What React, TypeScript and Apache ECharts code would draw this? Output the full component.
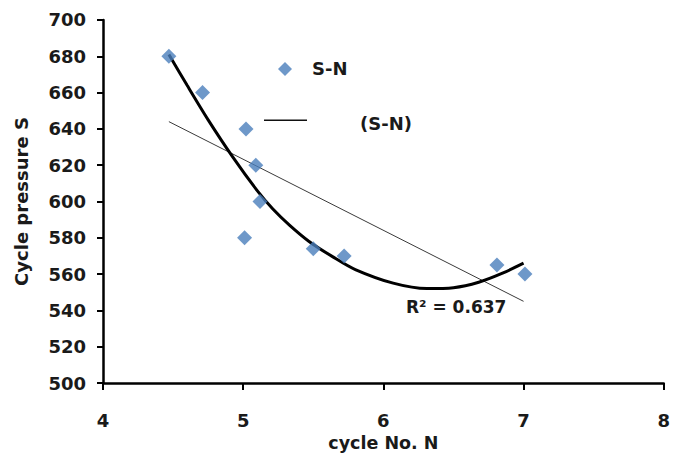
import React, { useEffect, useRef } from "react";
import * as echarts from "echarts";

// Measured data (cycle No. N vs cycle pressure S)
const cycleNo = [4.47, 4.71, 5.02, 5.09, 5.12, 5.01, 5.5, 5.72, 6.81, 7.01];
const pressure = [680, 660, 640, 620, 600, 580, 574, 570, 565, 560];

// Linear trend line
const linearX = [4.47, 7.0];
const linearY = [644, 545];

// Polynomial trend curve
const polyX = [4.47, 4.6, 4.75, 4.93, 5.1, 5.21, 5.33, 5.47, 5.64, 5.8, 6.07, 6.31, 6.5, 6.68, 6.85, 7.0];
const polyY = [681, 664, 645, 624, 606, 596, 587, 578, 569.5, 562.5, 555, 552, 552.5, 555.5, 560.5, 566];

const seriesName = "S-N";
const trendName = "(S-N)";
const r2Label = "R² = 0.637";
const xTitle = "cycle No. N";
const yTitle = "Cycle pressure S";

const FONT = "DejaVu Sans";
const W = 673;
const H = 457;
const px = (x: number) => `${((x / W) * 100).toFixed(3)}%`;
const py = (y: number) => `${((y / H) * 100).toFixed(3)}%`;

export default function App() {
  const ref = useRef<HTMLDivElement>(null);
  useEffect(() => {
    if (!ref.current) return;
    const chart = echarts.init(ref.current, null, { renderer: "svg" });
    const pts = cycleNo.map((x, i) => [x, pressure[i]]);
    const lin = linearX.map((x, i) => [x, linearY[i]]);
    const poly = polyX.map((x, i) => [x, polyY[i]]);
    const textCol = "#1a1a1a";
    chart.setOption({
      animation: false,
      backgroundColor: "#ffffff",
      textStyle: { fontFamily: FONT },
      grid: { left: px(103), right: px(3), top: py(20), bottom: py(69), containLabel: false },
      xAxis: {
        type: "value",
        min: 4,
        max: 8,
        interval: 1,
        name: xTitle,
        nameLocation: "middle",
        nameGap: 51,
        nameTextStyle: { fontFamily: FONT, fontWeight: "bold", fontSize: 17.5, color: textCol },
        axisLine: { show: true, onZero: false, lineStyle: { color: "#000", width: 2.5 } },
        axisTick: { show: true, inside: false, length: 7, lineStyle: { color: "#000", width: 2 } },
        axisLabel: { margin: 28, fontFamily: FONT, fontWeight: "bold", fontSize: 18, color: textCol },
        splitLine: { show: false },
      },
      yAxis: {
        type: "value",
        min: 500,
        max: 700,
        interval: 20,
        name: yTitle,
        nameLocation: "middle",
        nameGap: 73,
        nameRotate: 90,
        nameTextStyle: { fontFamily: FONT, fontWeight: "bold", fontSize: 18, color: textCol },
        axisLine: { show: true, onZero: false, lineStyle: { color: "#000", width: 2.5 } },
        axisTick: { show: true, inside: false, length: 6, lineStyle: { color: "#000", width: 2 } },
        axisLabel: { margin: 17, fontFamily: FONT, fontWeight: "bold", fontSize: 18, color: textCol },
        splitLine: { show: false },
      },
      legend: [
        {
          data: [seriesName],
          left: px(278),
          top: py(60),
          padding: 0,
          icon: "diamond",
          itemWidth: 14,
          itemHeight: 14,
          textStyle: { fontFamily: FONT, fontWeight: "bold", fontSize: 18, color: textCol, padding: [0, 0, 0, 15] },
          selectedMode: false,
        },
      ],
      series: [
        {
          name: trendName,
          type: "line",
          data: lin,
          showSymbol: false,
          symbol: "none",
          lineStyle: { color: "#3a3a3a", width: 1 },
          itemStyle: { color: "#000" },
          z: 2,
        },
        {
          name: "poly",
          type: "line",
          data: poly,
          smooth: 0.3,
          showSymbol: false,
          symbol: "none",
          lineStyle: { color: "#000", width: 3 },
          z: 3,
        },
        {
          name: seriesName,
          type: "scatter",
          data: pts,
          symbol: "diamond",
          symbolSize: 15,
          itemStyle: { color: "#4a7ebb" },
          z: 4,
        },
      ],
      graphic: [
        {
          type: "rect",
          left: px(264),
          top: py(119.5),
          shape: { width: 43, height: 1.5 },
          style: { fill: "#111" },
        },
        {
          type: "text",
          left: px(360),
          top: py(115),
          style: { text: trendName, fontFamily: FONT, fontWeight: "bold", fontSize: 18, fill: textCol },
        },
        {
          type: "text",
          left: px(406),
          top: py(298),
          style: { text: r2Label, fontFamily: FONT, fontWeight: "bold", fontSize: 17, fill: textCol },
        },
      ],
    });
    const onResize = () => chart.resize();
    window.addEventListener("resize", onResize);
    return () => {
      window.removeEventListener("resize", onResize);
      chart.dispose();
    };
  }, []);
  return (
    <div
      ref={ref}
      style={{ position: "fixed", left: 0, top: 0, width: "100vw", height: "100vh", background: "#fff" }}
    />
  );
}
